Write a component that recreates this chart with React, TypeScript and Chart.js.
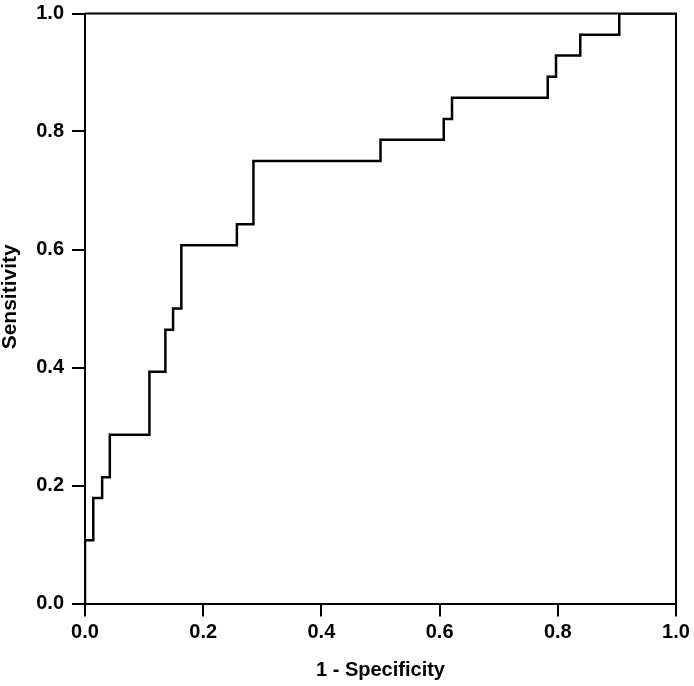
import React, { useEffect, useRef } from "react";
import { Chart, registerables } from "chart.js";

Chart.register(...registerables);

// ROC curve step points (1 - specificity, sensitivity)
const fpr = [0, 0, 0.014, 0.029, 0.042, 0.109, 0.136, 0.149, 0.163, 0.257, 0.285, 0.5, 0.607, 0.621, 0.783, 0.797, 0.838, 0.904, 1.0];
const tpr = [0, 0.107, 0.179, 0.214, 0.286, 0.393, 0.464, 0.5, 0.607, 0.643, 0.75, 0.786, 0.821, 0.857, 0.893, 0.929, 0.964, 1.0, 1.0];
const xTitle = "1 - Specificity";
const yTitle = "    Sensitivity";

const FONT = "'Liberation Sans', Arial, sans-serif";

const framePlugin = {
  id: "frame",
  afterDatasetsDraw(chart: any) {
    const { ctx, chartArea } = chart;
    ctx.save();
    ctx.strokeStyle = "#000";
    ctx.lineWidth = 2;
    ctx.beginPath();
    ctx.moveTo(chartArea.left, chartArea.top);
    ctx.lineTo(chartArea.right, chartArea.top);
    ctx.lineTo(chartArea.right, chartArea.bottom);
    ctx.stroke();
    ctx.restore();
  },
};

export default function App() {
  const ref = useRef<HTMLCanvasElement | null>(null);
  useEffect(() => {
    if (!ref.current) return;
    const points = fpr.map((x, i) => ({ x, y: tpr[i] }));
    const tickFont = { family: FONT, size: 20, weight: "bold" as const };
    const chart = new Chart(ref.current, {
      type: "line",
      data: {
        datasets: [
          {
            data: points,
            borderColor: "#000",
            borderWidth: 2.5,
            pointRadius: 0,
            stepped: true,
            fill: false,
          },
        ],
      },
      options: {
        animation: false,
        responsive: false,
        events: [],
        layout: { padding: { top: 13.5, right: 18, left: 0, bottom: 0 } },
        plugins: { legend: { display: false }, tooltip: { enabled: false } },
        scales: {
          x: {
            type: "linear",
            min: 0,
            max: 1,
            afterFit: (s: any) => {
              s.height = 82.5;
              s.paddingLeft = 0;
              s.paddingRight = 0;
            },
            border: { display: true, color: "#000", width: 2 },
            grid: { drawOnChartArea: false, drawTicks: true, tickLength: 13, color: "#000", lineWidth: 2 },
            ticks: {
              stepSize: 0.2,
              color: "#000",
              font: tickFont,
              padding: 4,
              maxRotation: 0,
              callback: (v: any) => Number(v).toFixed(1),
            },
            title: {
              display: true,
              text: xTitle,
              color: "#000",
              font: { family: FONT, size: 20, weight: "bold" },
              padding: { top: 0, bottom: 4 },
            },
          },
          y: {
            type: "linear",
            min: 0,
            max: 1,
            afterFit: (s: any) => {
              s.width = 85;
              s.paddingTop = 0;
              s.paddingBottom = 0;
            },
            border: { display: true, color: "#000", width: 2 },
            grid: { drawOnChartArea: false, drawTicks: true, tickLength: 13, color: "#000", lineWidth: 2 },
            ticks: {
              stepSize: 0.2,
              color: "#000",
              font: tickFont,
              padding: 8,
              callback: (v: any) => Number(v).toFixed(1),
            },
            title: {
              display: true,
              text: yTitle,
              color: "#000",
              font: { family: FONT, size: 21, weight: "bold" },
              padding: { top: -2, bottom: 0 },
            },
          },
        },
      },
      plugins: [framePlugin],
    });
    return () => chart.destroy();
  }, []);
  return (
    <div style={{ position: "fixed", left: 0, top: 0, width: 694, height: 686, background: "#fff" }}>
      <canvas ref={ref} width={694} height={686} style={{ display: "block" }} />
    </div>
  );
}
